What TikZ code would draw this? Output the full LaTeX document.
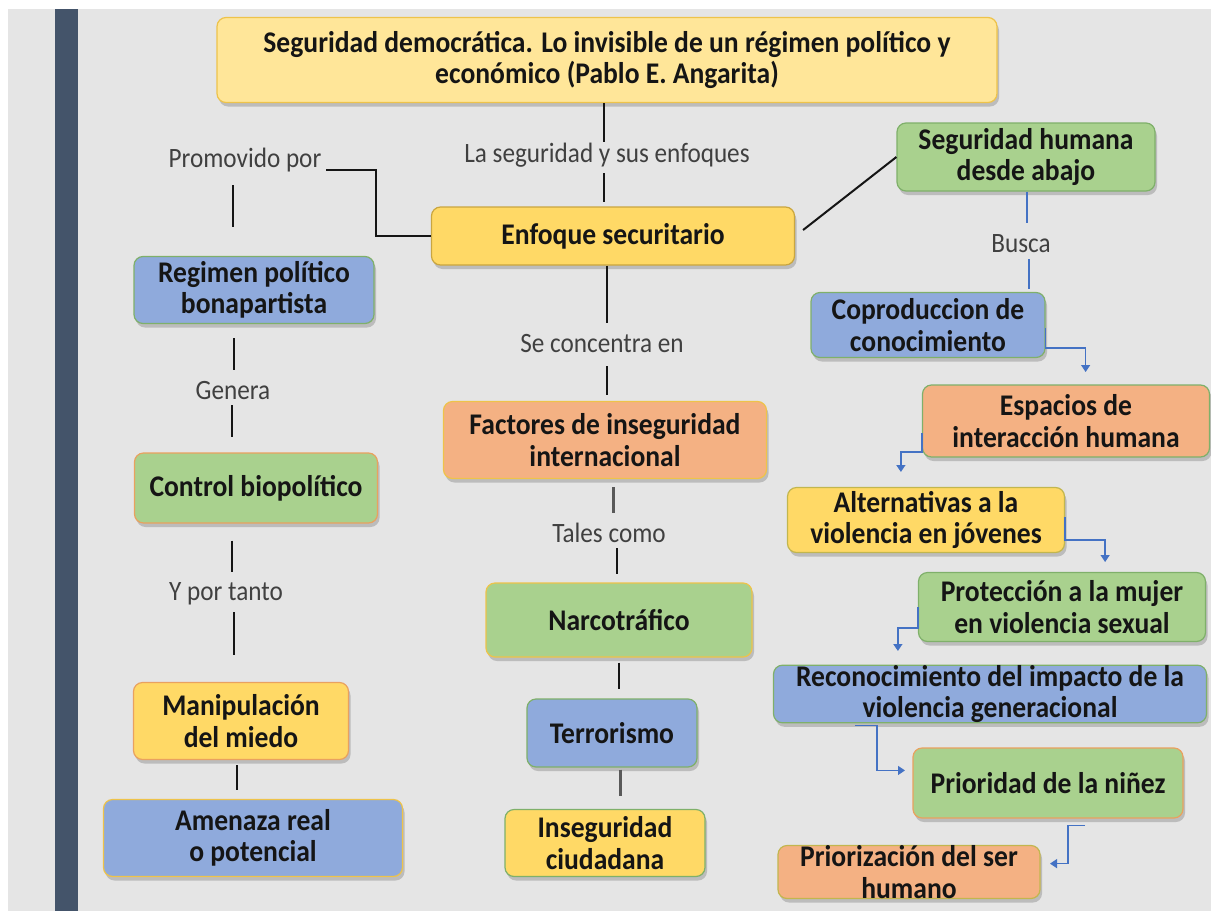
\documentclass[tikz,border=0pt]{standalone}
\usepackage{fontspec}
\setmainfont{Carlito}[FakeStretch=0.9]
\newfontfamily\boxfam{Carlito}[FakeStretch=0.92]
\usetikzlibrary{shadows,arrows.meta}

\definecolor{bg}{HTML}{E5E5E5}
\definecolor{bar}{HTML}{44546A}
\definecolor{ylight}{HTML}{FFE699}
\definecolor{yel}{HTML}{FFD966}
\definecolor{grn}{HTML}{A9D18E}
\definecolor{blu}{HTML}{8FAADC}
\definecolor{org}{HTML}{F4B183}
\definecolor{lnk}{HTML}{4472C4}
\definecolor{lbl}{HTML}{404040}
\definecolor{ink}{HTML}{151515}
\definecolor{bYel}{HTML}{EEC34A}
\definecolor{bGrn}{HTML}{7FB06A}
\definecolor{bOrg}{HTML}{E9A15F}
\definecolor{bOli}{HTML}{C2B64E}

\newcommand\bxfont{\boxfam\bfseries\fontsize{30}{31.5}\selectfont}
\newcommand\lbfont{\fontsize{28}{30}\selectfont}

\tikzset{
  box/.style={rounded corners=9pt, line width=1.2pt, align=center,
    font=\bxfont, text=ink, inner sep=0pt,
    drop shadow={shadow xshift=2pt, shadow yshift=-4pt, opacity=.4}},
  lab/.style={font=\lbfont, text=lbl, inner sep=0pt, text height=20pt, text depth=6pt},
  conn/.style={draw=ink, line width=2pt},
  thick conn/.style={draw=black!65, line width=3pt},
  flow/.style={draw=lnk, line width=1.3pt, -{Triangle[width=9pt,length=7pt]}},
  bline/.style={draw=lnk, line width=1.3pt}
}

\begin{document}
\begin{tikzpicture}[x=1pt, y=-1pt]
% page, grey sheet and side bar
\fill[white] (0,0) rectangle (1211,911);
\fill[bg] (8,9) rectangle (1211,911);
\fill[bar] (55,9) rectangle (78,911);
\useasboundingbox (0,0) rectangle (1211,911);

% boxes
\node[box, fill=ylight, draw=bYel, minimum width=780, minimum height=85] (title) at (607,60)
  {Seguridad democrática. Lo invisible de un régimen político y\\económico (Pablo E. Angarita)};
\node[box, fill=yel, draw=bYel!85!black, minimum width=363, minimum height=58] (enf) at (613,236) {Enfoque securitario};
\node[box, fill=grn, draw=bGrn, minimum width=258, minimum height=68] (sh) at (1026,157) {Seguridad humana\\desde abajo};

\node[box, fill=blu, draw=bGrn, minimum width=240, minimum height=67] (reg) at (254,290) {Regimen político\\bonapartista};
\node[box, fill=grn, draw=bOrg, minimum width=243, minimum height=70] (ctl) at (256,488) {Control biopolítico};
\node[box, fill=yel, draw=bOrg, minimum width=215, minimum height=77] (man) at (241,721) {Manipulación\\del miedo};
\node[box, fill=blu, draw=bYel, minimum width=299, minimum height=77] (ame) at (253,838) {Amenaza real\\o potencial};

\node[box, fill=org, draw=bYel, minimum width=323, minimum height=77] (fac) at (605,440) {Factores de inseguridad\\internacional};
\node[box, fill=grn, draw=bYel, minimum width=266, minimum height=74] (nar) at (619,620) {Narcotráfico};
\node[box, fill=blu, draw=bGrn, minimum width=170, minimum height=68] (ter) at (612,733) {Terrorismo};
\node[box, fill=yel, draw=bGrn, minimum width=200, minimum height=67] (ins) at (605,843) {Inseguridad\\ciudadana};

\node[box, fill=blu, draw=bGrn, minimum width=234, minimum height=65] (cop) at (928,325) {Coproduccion de\\conocimiento};
\node[box, fill=org, draw=bGrn, minimum width=287, minimum height=72] (esp) at (1066,421) {Espacios de\\interacción humana};
\node[box, fill=yel, draw=bOli, minimum width=277, minimum height=65] (alt) at (926,520) {Alternativas a la\\violencia en jóvenes};
\node[box, fill=grn, draw=bGrn, minimum width=287, minimum height=69] (pro) at (1062,607) {Protección a la mujer\\en violencia sexual};
\node[box, fill=blu, draw=bGrn, minimum width=433, minimum height=56] (rec) at (990,694) {Reconocimiento del impacto de la\\violencia generacional};
\node[box, fill=grn, draw=bOrg, minimum width=270, minimum height=70] (pri) at (1048,783) {Prioridad de la niñez};
\node[box, fill=org, draw=bOli, minimum width=262, minimum height=53] (prz) at (909,872) {Priorización del ser\\humano};

% link labels
\node[lab] (promo) at (245,160) {Promovido por};
\node[lab] (segenf) at (607,155) {La seguridad y sus enfoques};
\node[lab] (conc) at (602,345) {Se concentra en};
\node[lab] (busca) at (1021,245) {Busca};
\node[lab] (gen) at (233,392) {Genera};
\node[lab] (ypt) at (226,593) {Y por tanto};
\node[lab] (tales) at (609,535) {Tales como};

% central column
\draw[conn] (title.south -| 604,0) -- (segenf.north -| 604,0);
\draw[conn, shorten <=5pt, shorten >=4pt] (segenf.south -| 604,0) -- (enf.north -| 604,0);
\draw[conn, shorten >=9pt] (enf.south -| 607,0) -- (conc.north -| 607,0);
\draw[conn, shorten <=8pt, shorten >=6pt] (conc.south -| 607,0) -- (fac.north -| 607,0);
\draw[thick conn, shorten <=8pt, shorten >=9pt] (fac.south -| 613,0) -- (tales.north -| 613,0);
\draw[conn, shorten >=8pt] (tales.south -| 617,0) -- (nar.north -| 617,0);
\draw[conn, shorten <=5pt, shorten >=9pt] (nar.south -| 619,0) -- (ter.north -| 619,0);
\draw[thick conn, shorten <=2pt, shorten >=13pt] (ter.south -| 620,0) -- (ins.north -| 620,0);

% left column
\draw[conn] (enf.west) -- (enf.west -| 376,0) |- ([xshift=4pt,yshift=-10pt]promo.east);
\draw[conn, shorten <=12pt, shorten >=29pt] (promo.south -| 233,0) -- (reg.north -| 233,0);
\draw[conn, shorten <=14pt, shorten >=9pt] (reg.south -| 234,0) -- (gen.north -| 234,0);
\draw[conn, shorten >=15pt] (gen.south -| 232,0) -- (ctl.north -| 232,0);
\draw[conn, shorten <=17pt, shorten >=8pt] (ctl.south -| 232,0) -- (ypt.north -| 232,0);
\draw[conn, shorten <=6pt, shorten >=27pt] (ypt.south -| 234,0) -- (man.north -| 234,0);
\draw[conn, shorten <=5pt, shorten >=9pt] (man.south -| 237,0) -- (ame.north -| 237,0);

% right column
\draw[conn] ([xshift=8pt,yshift=6pt]enf.east) -- (sh.west);
\draw[bline, shorten >=9pt] (sh.south -| 1027,0) -- (busca.north -| 1027,0);
\draw[bline, shorten <=1pt, shorten >=3pt] (busca.south -| 1029,0) -- (cop.north -| 1029,0);

\draw[flow] ([yshift=-3pt]cop.east) -- ++(0,20) -- ++(40,0) -- ++(0,24);
\draw[flow] ([yshift=-12pt]esp.west) -- ++(0,19) -- ++(-21,0) -- ++(0,20);
\draw[flow] ([yshift=3pt]alt.east) -- ++(0,23) -- ++(40,0) -- ++(0,22);
\draw[flow] (pro.west) -- ++(0,21) -- ++(-20,0) -- ++(0,23);
\draw[flow] ([xshift=-135pt,yshift=-2pt]rec.south) -- ++(22,0) -- ++(0,45) -- ++(28,0);
\draw[flow] ([xshift=37pt,yshift=-7pt]pri.south) -- ++(-17,0) -- ++(0,38) -- ++(-18,0);
\end{tikzpicture}
\end{document}
